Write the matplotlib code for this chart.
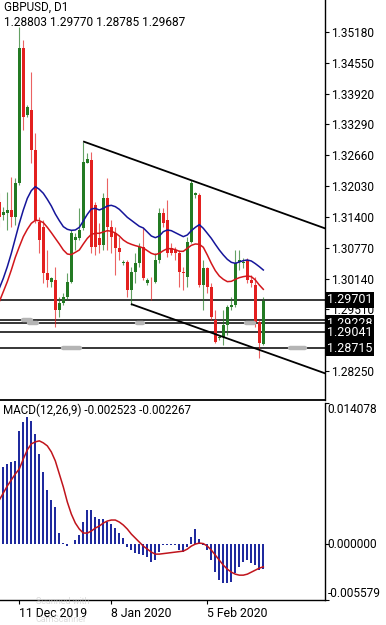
import matplotlib
matplotlib.use("Agg")
import matplotlib.pyplot as plt
import numpy as np

plt.rcParams['font.family'] = ['Roboto', 'DejaVu Sans']

# ---------------- data ----------------
title_text = "GBPUSD, D1"
ohlc_text = "1.28803 1.29770 1.28785 1.29687"
macd_title = "MACD(12,26,9) -0.002523 -0.002267"

opens = [1.31711, 1.31438, 1.31472, 1.31540, 1.31404, 1.32085, 1.34846, 1.33483, 1.33585, 1.32767,
         1.31302, 1.31200, 1.30246, 1.30076, 1.30110, 1.29496, 1.29632, 1.29769, 1.30076, 1.30928,
         1.30962, 1.31166, 1.32508, 1.32563, 1.31643, 1.30962, 1.30825, 1.31779, 1.31200, 1.31064,
         1.30757, 1.30451, 1.30485, 1.29906, 1.30280, 1.30451, 1.30791, 1.30042, 1.30076, 1.30076,
         1.30519, 1.31486, 1.31336, 1.30757, 1.30723, 1.30655, 1.30280, 1.30178, 1.30894, 1.31847,
         1.31847, 1.30008, 1.30349, 1.29974, 1.29292, 1.28917, 1.28951, 1.29190, 1.29564, 1.29598,
         1.30485, 1.30451, 1.30519, 1.30110, 1.30008, 1.29258, 1.28803]
highs = [1.31881, 1.31609, 1.31915, 1.32222, 1.32188, 1.35289, 1.35016, 1.33688, 1.34369, 1.33108,
         1.31404, 1.31336, 1.30723, 1.30178, 1.30383, 1.29769, 1.29837, 1.30246, 1.31132, 1.31064,
         1.31575, 1.32938, 1.32699, 1.32733, 1.31711, 1.31268, 1.31881, 1.32188, 1.31336, 1.31200,
         1.30996, 1.30519, 1.30519, 1.30383, 1.30655, 1.30859, 1.31166, 1.30144, 1.30178, 1.30655,
         1.31575, 1.31575, 1.31745, 1.30859, 1.30791, 1.30723, 1.30383, 1.30996, 1.32153, 1.31915,
         1.31881, 1.30519, 1.30383, 1.30042, 1.29496, 1.28985, 1.29496, 1.29598, 1.29769, 1.30723,
         1.30723, 1.30553, 1.30553, 1.30212, 1.30178, 1.29292, 1.29770]
lows = [1.31200, 1.31336, 1.31132, 1.31200, 1.31234, 1.32051, 1.33176, 1.33449, 1.32494, 1.31268,
        1.30655, 1.30042, 1.29974, 1.29974, 1.29155, 1.29360, 1.29598, 1.29701, 1.30042, 1.30723,
        1.30928, 1.31132, 1.32494, 1.30655, 1.30621, 1.30655, 1.30723, 1.30723, 1.30655, 1.30212,
        1.30519, 1.30417, 1.29769, 1.29598, 1.30042, 1.30383, 1.30110, 1.30008, 1.29701, 1.30042,
        1.30451, 1.31200, 1.30587, 1.30621, 1.30519, 1.29974, 1.29906, 1.29974, 1.30859, 1.31779,
        1.29974, 1.29496, 1.29837, 1.29292, 1.28815, 1.28883, 1.28780, 1.28985, 1.29496, 1.29564,
        1.30315, 1.30349, 1.30042, 1.29974, 1.29155, 1.28508, 1.28785]
closes = [1.31404, 1.31506, 1.31540, 1.31391, 1.32085, 1.34846, 1.33449, 1.33640, 1.32767, 1.31336,
          1.30928, 1.30246, 1.30110, 1.30144, 1.29496, 1.29632, 1.29769, 1.30076, 1.31064, 1.30996,
          1.31132, 1.32529, 1.32577, 1.30791, 1.30791, 1.30825, 1.31779, 1.31200, 1.30996, 1.30757,
          1.30689, 1.30485, 1.29906, 1.30280, 1.30451, 1.30791, 1.30144, 1.30110, 1.30060, 1.30519,
          1.31472, 1.31268, 1.30655, 1.30655, 1.30655, 1.30280, 1.30246, 1.30894, 1.32085, 1.31881,
          1.30008, 1.30349, 1.29974, 1.29360, 1.28849, 1.28951, 1.29190, 1.29564, 1.29598, 1.30451,
          1.30519, 1.30485, 1.30110, 1.30042, 1.29258, 1.28815, 1.29687]

ma_blue = [1.29939, 1.30144, 1.30382, 1.30655, 1.30961, 1.31268, 1.31541, 1.31779, 1.31936, 1.32018,
           1.31963, 1.31882, 1.31759, 1.31623, 1.31459, 1.31323, 1.31200, 1.31146, 1.31125, 1.31132,
           1.31186, 1.31316, 1.31452, 1.31561, 1.31575, 1.31541, 1.31575, 1.31623, 1.31636, 1.31609,
           1.31554, 1.31473, 1.31391, 1.31330, 1.31268, 1.31207, 1.31173, 1.31091, 1.31009, 1.30975,
           1.31009, 1.31098, 1.31132, 1.31118, 1.31077, 1.31036, 1.30996, 1.31030, 1.31118, 1.31186,
           1.31241, 1.31166, 1.31064, 1.30961, 1.30839, 1.30723, 1.30621, 1.30532, 1.30471, 1.30450,
           1.30478, 1.30505, 1.30519, 1.30498, 1.30444, 1.30382, 1.30314]
ma_red = [1.29667, 1.29871, 1.30076, 1.30314, 1.30573, 1.30791, 1.30996, 1.31146, 1.31268, 1.31330,
          1.31323, 1.31282, 1.31186, 1.31077, 1.30961, 1.30846, 1.30723, 1.30641, 1.30628, 1.30675,
          1.30723, 1.30846, 1.30961, 1.31043, 1.31064, 1.31064, 1.31091, 1.31118, 1.31105, 1.31071,
          1.31009, 1.30927, 1.30873, 1.30839, 1.30812, 1.30791, 1.30764, 1.30709, 1.30655, 1.30628,
          1.30655, 1.30709, 1.30750, 1.30750, 1.30730, 1.30696, 1.30696, 1.30757, 1.30818, 1.30846,
          1.30839, 1.30778, 1.30621, 1.30450, 1.30300, 1.30191, 1.30123, 1.30076, 1.30082, 1.30123,
          1.30157, 1.30178, 1.30191, 1.30178, 1.30110, 1.30007, 1.29919]

macd_hist = [0.00718, 0.00768, 0.00801, 0.00817, 0.00834, 0.01132, 0.01215, 0.01264, 0.01231, 0.01099,
             0.00900, 0.00718, 0.00536, 0.00437, 0.00371, 0.00106, 0.00010, -0.00020, 0.00002, 0.00040,
             0.00090, 0.00222, 0.00338, 0.00338, 0.00271, 0.00255, 0.00255, 0.00222, 0.00205, 0.00156,
             0.00106, 0.00056, -0.00026, -0.00060, -0.00093, -0.00100, -0.00109, -0.00132, -0.00175, -0.00159,
             -0.00076, -0.00010, -0.00010, -0.00010, -0.00010, -0.00060, -0.00076, -0.00030, 0.00073, 0.00146,
             0.00046, -0.00010, -0.00060, -0.00159, -0.00275, -0.00357, -0.00384, -0.00390, -0.00374, -0.00291,
             -0.00225, -0.00175, -0.00159, -0.00192, -0.00209, -0.00258, -0.002523]
macd_signal = [0.0044, 0.0051, 0.0058, 0.0064, 0.0070, 0.0075, 0.0085, 0.0094, 0.0100, 0.0102,
               0.0103, 0.0101, 0.0098, 0.0092, 0.0083, 0.0070, 0.0057, 0.0042, 0.0030, 0.0021,
               0.0015, 0.0011, 0.0011, 0.0013, 0.0016, 0.0018, 0.0021, 0.0023, 0.0024, 0.0024,
               0.0022, 0.0019, 0.0015, 0.0010, 0.0006, 0.0002, -0.0002, -0.0005, -0.0008, -0.0010,
               -0.0010, -0.00095, -0.0009, -0.00085, -0.0008, -0.00075, -0.0007, -0.0005, -0.0002, 0.0000,
               0.0001, 0.00005, -0.0002, -0.0006, -0.0011, -0.0016, -0.0021, -0.0025, -0.0028, -0.0030,
               -0.0031, -0.0031, -0.0030, -0.0028, -0.0026, -0.0024, -0.002267]

price_ticks = [1.28250, 1.29510, 1.30140, 1.30770, 1.31400, 1.32030, 1.32660, 1.33290,
               1.33920, 1.34550, 1.35180]
hline_levels = [1.29701, 1.29285, 1.29228, 1.29041, 1.28715]
label_levels = [1.29701, 1.29228, 1.29041, 1.28715]
upper_trend = [(21.17, 1.32937), (48.0, 1.32148)]
lower_trend = [(33.1, 1.29613), (66.0, 1.28652)]
macd_labels = [0.014078, 0.0, -0.005579]
date_pos = [5, 28, 52]
date_labels = ["11 Dec 2019", "8 Jan 2020", "5 Feb 2020"]

# ---------------- figure ----------------
W, H = 386, 625
fig = plt.figure(figsize=(W / 100, H / 100), dpi=100)
fig.patch.set_facecolor('white')

def fx(px):
    return px / W

def fy(py):
    return 1 - py / H

ax = fig.add_axes([0, fy(400), fx(325), 400 / H])
ax2 = fig.add_axes([0, fy(600), fx(325), 197 / H])

XMIN, XMAX = 0.17, 81.42
GREEN = '#237a23'
RED = '#e3201f'

n = len(opens)
idx = np.arange(n)
o = np.array(opens); c = np.array(closes)
h = np.array(highs); l = np.array(lows)
up = c >= o
cols = np.where(up, GREEN, RED)

# wicks
ax.vlines(idx, l, h, colors=cols, linewidth=0.8, alpha=0.7, zorder=3)
# bodies
bottoms = np.minimum(o, c)
heights = np.maximum(np.abs(c - o), 0.00006)
ax.bar(idx, heights, bottom=bottoms, width=0.64, color=cols, edgecolor='none', zorder=4)

# moving averages
ax.plot(idx, ma_blue, color='#15159a', lw=1.1, zorder=5)
ax.plot(idx, ma_red, color='#d2161b', lw=1.1, zorder=5)

# horizontal lines
for lv in hline_levels:
    ax.axhline(lv, color='black', lw=1.1, zorder=2)

# gray handles on lines
pills = [(5.9, 7.9, 1.29285), (7.4, 9.4, 1.29228), (16.0, 20.2, 1.28715),
         (34.4, 35.9, 1.29228), (61.7, 63.7, 1.29228), (72.7, 76.4, 1.28715)]
for a, b, lv in pills:
    ax.plot([a, b], [lv, lv], color='#b4b4b4', lw=3.2, solid_capstyle='round', zorder=6)

# trend lines
def trend(anchors, start):
    (i1, p1), (i2, p2) = anchors
    s = (p2 - p1) / (i2 - i1)
    xs = np.array([start, XMAX])
    return xs, p1 + s * (xs - i1)

xs, ys = trend(upper_trend, upper_trend[0][0])
ax.plot(xs, ys, color='black', lw=1.3, zorder=6)
xs, ys = trend(lower_trend, lower_trend[0][0])
ax.plot(xs, ys, color='black', lw=1.3, zorder=6)

ax.set_xlim(XMIN, XMAX)
ax.set_ylim(1.27656, 1.35834)
for s in ['top', 'left']:
    ax.spines[s].set_visible(False)
ax.spines['right'].set_color('black')
ax.spines['right'].set_linewidth(1.0)
ax.spines['bottom'].set_color('black')
ax.spines['bottom'].set_linewidth(1.3)
ax.set_xticks([])
ax.yaxis.tick_right()
ax.set_yticks(price_ticks)
ax.set_yticklabels([f"{t:.5f}" for t in price_ticks])
ax.tick_params(axis='y', direction='out', length=3, width=0.8, pad=1.5,
               labelsize=8.6, colors='black')

for lv in label_levels:
    ax.text(1.006, lv, f"{lv:.5f}", transform=ax.get_yaxis_transform(),
            color='white', fontsize=9, ha='left', va='center', clip_on=False, zorder=20,
            bbox=dict(boxstyle='square,pad=0.12', fc='black', ec='none'))

# ---------------- MACD panel ----------------
ax2.bar(idx, macd_hist, width=0.42, color='#1f2a9e', edgecolor='none', zorder=3)
ax2.plot(idx, macd_signal, color='#c0141c', lw=1.1, zorder=4)
ax2.set_xlim(XMIN, XMAX)
ax2.set_ylim(-0.005579, 0.014078)
for s in ['top', 'left']:
    ax2.spines[s].set_visible(False)
ax2.spines['right'].set_linewidth(1.0)
ax2.spines['bottom'].set_linewidth(1.0)
ax2.set_yticks(macd_labels)
ax2.yaxis.tick_right()
ax2.set_yticklabels([])
ax2.tick_params(axis='y', direction='out', length=3, width=0.8)
vas = ['top', 'center', 'bottom']
for v, va in zip(macd_labels, vas):
    ax2.text(1.008, v, f"{v:.6f}", transform=ax2.get_yaxis_transform(), fontsize=8.6,
             ha='left', va=va, clip_on=False)
ax2.set_xticks(date_pos)
ax2.set_xticklabels(date_labels, ha='left')
ax2.tick_params(axis='x', direction='out', length=3, width=0.8, pad=2, labelsize=8.8)

# texts
fig.text(fx(4), fy(7), title_text, fontsize=8.4, ha='left', va='center')
fig.text(fx(4), fy(22.5), ohlc_text, fontsize=8.6, ha='left', va='center')
fig.text(fx(3), fy(410), macd_title, fontsize=8.4, ha='left', va='center')

# scanner watermark (faint, behind the date label area)
fig.text(fx(36), fy(601), "Scanned with", fontsize=6.5, color='#c4c4c4', alpha=0.6,
         ha='left', va='center')
fig.text(fx(36), fy(619), "CamScanner", fontsize=6.5, color='#c4c4c4', alpha=0.6,
         ha='left', va='center')

fig.savefig("out.png", dpi=100, facecolor='white')
